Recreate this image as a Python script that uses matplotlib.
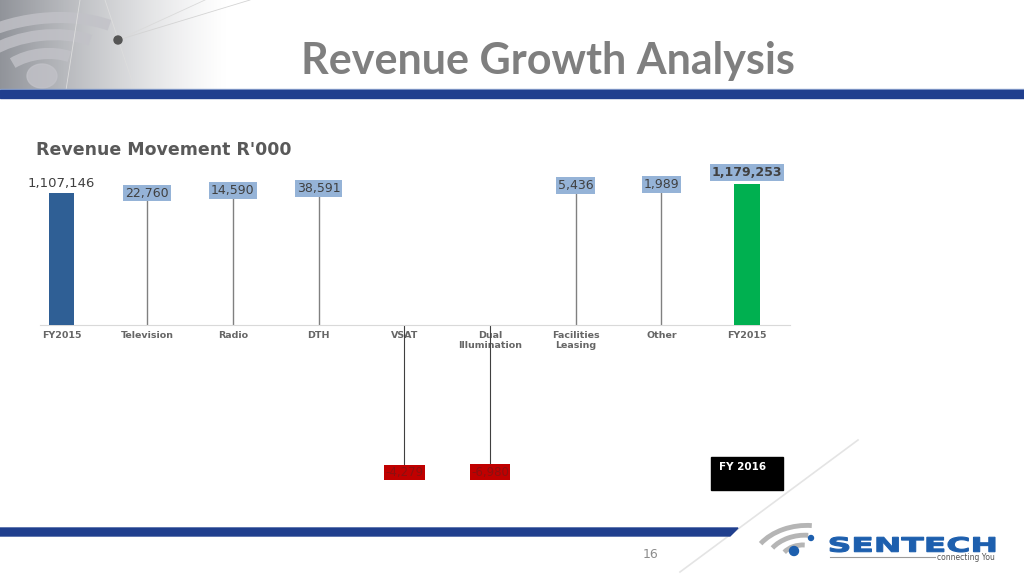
import numpy as np
import matplotlib.pyplot as plt
from matplotlib.patches import Rectangle, Polygon, Arc, Circle, Ellipse, PathPatch
from matplotlib.textpath import TextPath
from matplotlib.transforms import Affine2D
from matplotlib.font_manager import FontProperties

plt.rcParams['font.family'] = 'DejaVu Sans'

# data
categories = ['FY2015', 'Television', 'Radio', 'DTH', 'VSAT', 'Dual\nIllumination',
              'Facilities\nLeasing', 'Other', 'FY2015']
opening = 1107146
steps = [22760, 14590, 38591, -4279, -6980, 5436, 1989]
closing = 1179253

W, H = 1024, 575
fig = plt.figure(figsize=(W / 100, H / 100), dpi=100)

# slide background in pixel coords
bg = fig.add_axes([0, 0, 1, 1])
bg.set_xlim(0, W)
bg.set_ylim(H, 0)
bg.axis('off')

# grey gradient decoration top-left
gx = np.clip(np.linspace(1, 0, 230), 0, 1) ** 1.3
grad = np.zeros((92, 230, 4))
grad[..., :3] = [0.52, 0.53, 0.56]
grad[..., 3] = gx[None, :] * 0.9
bg.imshow(grad, extent=(0, 230, 92, 0), aspect='auto', zorder=0)
for r in [30, 53, 74]:
    bg.add_patch(Arc((42, 78), 2.9 * r, 1.6 * r, angle=-8, theta1=215, theta2=330,
                     color='#c2c2c8', lw=8, alpha=0.8, zorder=1))
bg.add_patch(Ellipse((42, 76), 30, 24, color='#c2c2c8', alpha=0.8, zorder=1))
bg.plot([118, 250], [40, 0], color='#d4d4d4', lw=0.6, zorder=1)
bg.plot([118, 205], [40, 0], color='#dadada', lw=0.6, zorder=1)
bg.plot([105, 135], [0, 90], color='#dddddd', lw=0.6, zorder=1)
bg.plot([80, 66], [0, 90], color='#dddddd', lw=0.6, zorder=1)
bg.add_patch(Circle((118, 40), 4, color='#555555', zorder=2))

# title and top band
bg.text(548, 74, 'Revenue Growth Analysis', fontsize=31, fontweight='bold',
        family='Lato', color='#7f7f7f', ha='center', va='baseline')
bg.add_patch(Rectangle((0, 88.5), W, 1.2, color='#8fa5d0', zorder=2))
bg.add_patch(Rectangle((0, 90), W, 7.5, color='#203f8e', zorder=2))

# bottom band with slanted end
bg.add_patch(Polygon([(0, 528), (738, 528), (730, 536), (0, 536)], closed=True,
                     color='#203f8e', zorder=2))
bg.plot([680, 858], [572, 440], color='#e4e4e4', lw=1.2, zorder=1)
bg.text(651, 555, '16', fontsize=9, color='#8c8c8c', ha='center', va='center')

# chart title
bg.text(36, 150, "Revenue Movement R'000", fontsize=12.5, fontweight='bold',
        color='#595959', ha='left', va='center')

# FY 2016 box
bg.add_patch(Rectangle((711, 457), 72, 33, color='black', zorder=3))
bg.text(719, 467, 'FY 2016', fontsize=7.5, fontweight='bold', color='white',
        ha='left', va='center', zorder=4)

# logo
for r in [16, 28, 40]:
    bg.add_patch(Arc((800, 558), 2.4 * r, 1.6 * r, angle=-10, theta1=210, theta2=300,
                     color='#b5b5b5', lw=3.5, zorder=2))
bg.add_patch(Circle((794, 551), 4.5, color='#1d5fae', zorder=3))
bg.add_patch(Circle((811, 538), 2.5, color='#1d5fae', zorder=3))
tp = TextPath((0, 0), 'SENTECH', size=10, prop=FontProperties(family='DejaVu Sans', weight='bold'))
ext = tp.get_extents()
sx = 165 / ext.width
sy = 15 / ext.height
tr = Affine2D().translate(-ext.x0, -ext.y0).scale(sx, -sy).translate(830, 552)
bg.add_patch(PathPatch(tr.transform_path(tp), color='#1d5fae', lw=0.8, zorder=3))
bg.plot([830, 935], [557, 557], color='#9a9a9a', lw=0.8)
bg.text(995, 557, 'connecting You', fontsize=5.5, color='#555555', ha='right', va='center')

# chart
ax = fig.add_axes([40 / W, 1 - 505 / H, 750 / W, 345 / H])
ax.set_xlim(-0.25, 8.5)
ax.set_ylim(-1.51e6, 1.384e6)
for side in ['top', 'left', 'right']:
    ax.spines[side].set_visible(False)
ax.spines['bottom'].set_color('#d9d9d9')
ax.spines['bottom'].set_position(('data', 0))
ax.patch.set_alpha(0)

x = np.arange(len(categories))
running = opening + np.cumsum(steps)
prev = np.concatenate([[opening], running[:-1]])

ax.bar(x[0], opening, width=0.3, color='#2f5f95', zorder=3)
ax.bar(x[-1], closing, width=0.3, color='#00b050', zorder=3)
ax.annotate(f'{opening:,}', (x[0], opening), xytext=(0, 2), textcoords='offset points',
            ha='center', va='bottom', fontsize=9.5, color='#404040')
ax.annotate(f'{closing:,}', (x[-1], closing), xytext=(0, 4), textcoords='offset points',
            ha='center', va='bottom', fontsize=9, fontweight='bold', color='#404040',
            bbox=dict(boxstyle='square,pad=0.15', fc='#95b3d7', ec='none'))

for i, (s, p) in enumerate(zip(steps, prev)):
    xi = x[i + 1]
    if s > 0:
        ax.vlines(xi, 0, p, color='#808080', lw=1, zorder=2)
        ax.annotate(f'{s:,}', (xi, p), ha='center', va='center', fontsize=9,
                    color='#404040', zorder=4,
                    bbox=dict(boxstyle='square,pad=0.15', fc='#95b3d7', ec='none'))
    else:
        ax.vlines(xi, 0, -p, color='#404040', lw=0.8, zorder=2)
        ax.annotate(f'{s:,}', (xi, -p), ha='center', va='top', fontsize=8.5,
                    color='#8b1010', zorder=4,
                    bbox=dict(boxstyle='square,pad=0.12', fc='#c00000', ec='none'))

ax.set_xticks(x)
ax.set_xticklabels(categories, fontsize=6.8, fontweight='bold', color='#666666',
                   linespacing=1.25)
ax.tick_params(axis='x', length=0, pad=4)
ax.set_yticks([])

fig.savefig('out.png', dpi=100)
